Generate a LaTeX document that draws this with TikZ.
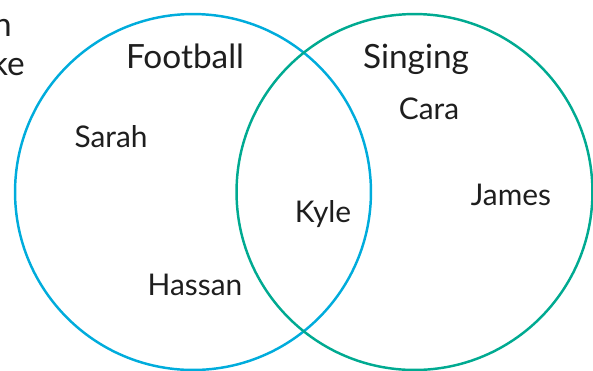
\documentclass[tikz,border=0pt]{standalone}
\usepackage{fontspec}
\setmainfont{Lato}
\usetikzlibrary{positioning}
\definecolor{footblue}{RGB}{0,172,220}
\definecolor{singgreen}{RGB}{0,170,145}
\definecolor{ink}{RGB}{30,30,30}

\begin{document}
\begin{tikzpicture}[x=0.02cm, y=-0.02cm,
  setring/.style={draw, circle, line width=1.4pt, minimum size=7.12cm, inner sep=0pt},
  setname/.style={anchor=base, text=ink, font=\fontsize{19}{22}\selectfont},
  member/.style={anchor=base, text=ink, font=\fontsize{17}{20}\selectfont}]

\useasboundingbox (0,0) rectangle (593,370);

% ----------------------
% The two sets
% ----------------------
\node[setring, footblue] (football) at (193,192) {};
\node[setring, singgreen] (singing) at (414.5,192) {};

% ----------------------
% Set titles
% ----------------------
\node[setname] (footballname) at (185,68) {Football};
\node[setname] (singingname) at (416,68) {Singing};

% ----------------------
% Members
% ----------------------
\node[member] (sarah) at (111,147) {Sarah};
\node[member] (hassan) at (195,295) {Hassan};
\node[member] (kyle) at (323,222) {Kyle};
\node[member] (cara) at (429,119) {Cara};
\node[member] (james) at (511,205) {James};

% ----------------------
% Text cut off at the left edge
% ----------------------
\node[setname, anchor=base east, inner sep=0pt] (cutn) at (12,36) {n};
\node[setname, anchor=base east, inner sep=0pt] (cutke) at (25,75) {ke};

\end{tikzpicture}
\end{document}
